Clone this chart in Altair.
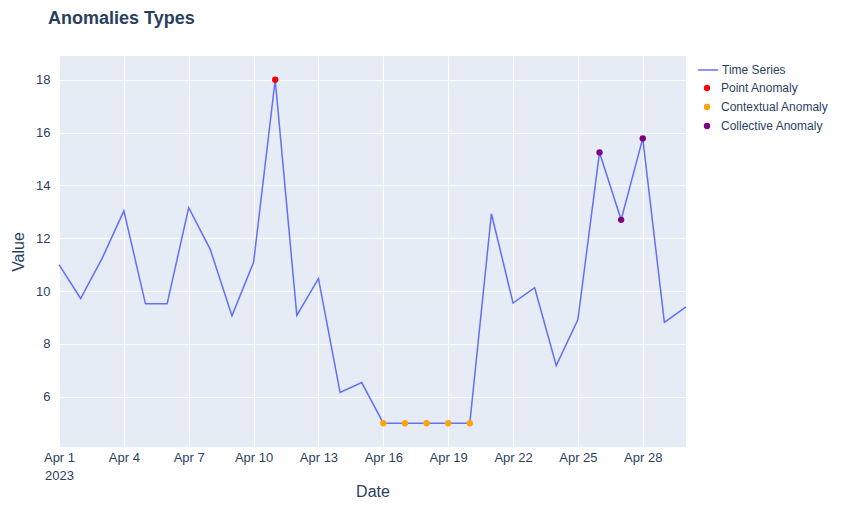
import altair as alt
import pandas as pd

dates = [
    "2023-04-01", "2023-04-02", "2023-04-03", "2023-04-04", "2023-04-05",
    "2023-04-06", "2023-04-07", "2023-04-08", "2023-04-09", "2023-04-10",
    "2023-04-11", "2023-04-12", "2023-04-13", "2023-04-14", "2023-04-15",
    "2023-04-16", "2023-04-17", "2023-04-18", "2023-04-19", "2023-04-20",
    "2023-04-21", "2023-04-22", "2023-04-23", "2023-04-24", "2023-04-25",
    "2023-04-26", "2023-04-27", "2023-04-28", "2023-04-29", "2023-04-30",
]
values = [
    11.0, 9.72, 11.25, 13.04, 9.52, 9.52, 13.16, 11.57, 9.07, 11.09,
    18.0, 9.08, 10.47, 6.17, 6.54, 5.0, 5.0, 5.0, 5.0, 5.0,
    12.93, 9.55, 10.13, 7.18, 8.92, 15.25, 12.7, 15.78, 8.82, 9.4,
]

point_dates = ["2023-04-11"]
point_values = [18.0]
contextual_dates = ["2023-04-16", "2023-04-17", "2023-04-18", "2023-04-19", "2023-04-20"]
contextual_values = [5.0, 5.0, 5.0, 5.0, 5.0]
collective_dates = ["2023-04-26", "2023-04-27", "2023-04-28"]
collective_values = [15.25, 12.7, 15.78]

anomaly_types = ["Point Anomaly", "Contextual Anomaly", "Collective Anomaly"]
anomaly_colors = ["red", "orange", "purple"]
tick_days = [1, 4, 7, 10, 13, 16, 19, 22, 25, 28]

FONT = "Liberation Sans"
TXT = "#2a3f5f"

ts = pd.DataFrame({"Date": dates, "Value": values, "series": "Time Series"})
an = pd.concat([
    pd.DataFrame({"Date": point_dates, "Value": point_values, "type": anomaly_types[0]}),
    pd.DataFrame({"Date": contextual_dates, "Value": contextual_values, "type": anomaly_types[1]}),
    pd.DataFrame({"Date": collective_dates, "Value": collective_values, "type": anomaly_types[2]}),
])

x_scale = alt.Scale(
    type="utc",
    domain=[alt.DateTime(year=2023, month=4, date=1, utc=True),
            alt.DateTime(year=2023, month=4, date=30, utc=True)],
    nice=False,
)
y_scale = alt.Scale(domain=[4.1, 18.9], nice=False, zero=False)

x_axis = alt.Axis(
    values=[alt.DateTime(year=2023, month=4, date=d, utc=True) for d in tick_days],
    labelExpr="datum.index === 0 ? [utcFormat(datum.value, '%b %-d'), '2023'] : utcFormat(datum.value, '%b %-d')",
    title="Date",
    labelFlush=False,
    labelLineHeight=18,
    titleBaseline="alphabetic",
    titleY=49,
)
y_axis = alt.Axis(values=[6, 8, 10, 12, 14, 16, 18], title="Value")

x_enc = alt.X("Date:T", scale=x_scale, axis=x_axis)
y_enc = alt.Y("Value:Q", scale=y_scale, axis=y_axis)

line = alt.Chart(ts).mark_line(strokeWidth=1.5).encode(
    x=x_enc,
    y=y_enc,
    color=alt.Color(
        "series:N",
        scale=alt.Scale(domain=["Time Series"], range=["#636efa"]),
        legend=alt.Legend(
            title=None, orient="none", legendX=638, legendY=3,
            symbolType="stroke", symbolSize=400, symbolStrokeWidth=1.5,
            labelOffset=3, padding=0,
        ),
    ),
)

points = alt.Chart(an).mark_circle(size=40, opacity=1).encode(
    x=alt.X("Date:T", scale=x_scale),
    y=alt.Y("Value:Q", scale=y_scale),
    fill=alt.Fill(
        "type:N",
        scale=alt.Scale(domain=anomaly_types, range=anomaly_colors),
        legend=alt.Legend(
            title=None, orient="none", legendX=642, legendY=26,
            symbolType="circle", symbolSize=40, labelOffset=8, padding=0,
            rowPadding=7,
        ),
    ),
)

chart = alt.layer(line, points).properties(
    width=627,
    height=391,
    autosize=alt.AutoSizeParams(type="none"),
    padding={"left": 51, "top": 48, "right": 150, "bottom": 51},
    title=alt.TitleParams(
        "Anomalies Types", anchor="start", frame="group", dx=-11, offset=28,
        font=FONT, fontSize=18, fontWeight="bold", color=TXT,
    ),
).configure_view(
    fill="#E5ECF6", stroke=None,
).configure_axis(
    grid=True, gridColor="white", gridWidth=1, domain=False, ticks=False, tickSize=0,
    labelFont=FONT, labelFontSize=13, labelColor=TXT,
    titleFont=FONT, titleFontSize=16, titleColor=TXT, titleFontWeight="normal",
).configure_axisX(
    labelPadding=4,
).configure_axisY(
    labelPadding=9, titlePadding=9,
).configure_legend(
    labelFont=FONT, labelFontSize=12, labelColor=TXT,
)

chart.save("out.html", embed_options={"renderer": "svg", "actions": False})
